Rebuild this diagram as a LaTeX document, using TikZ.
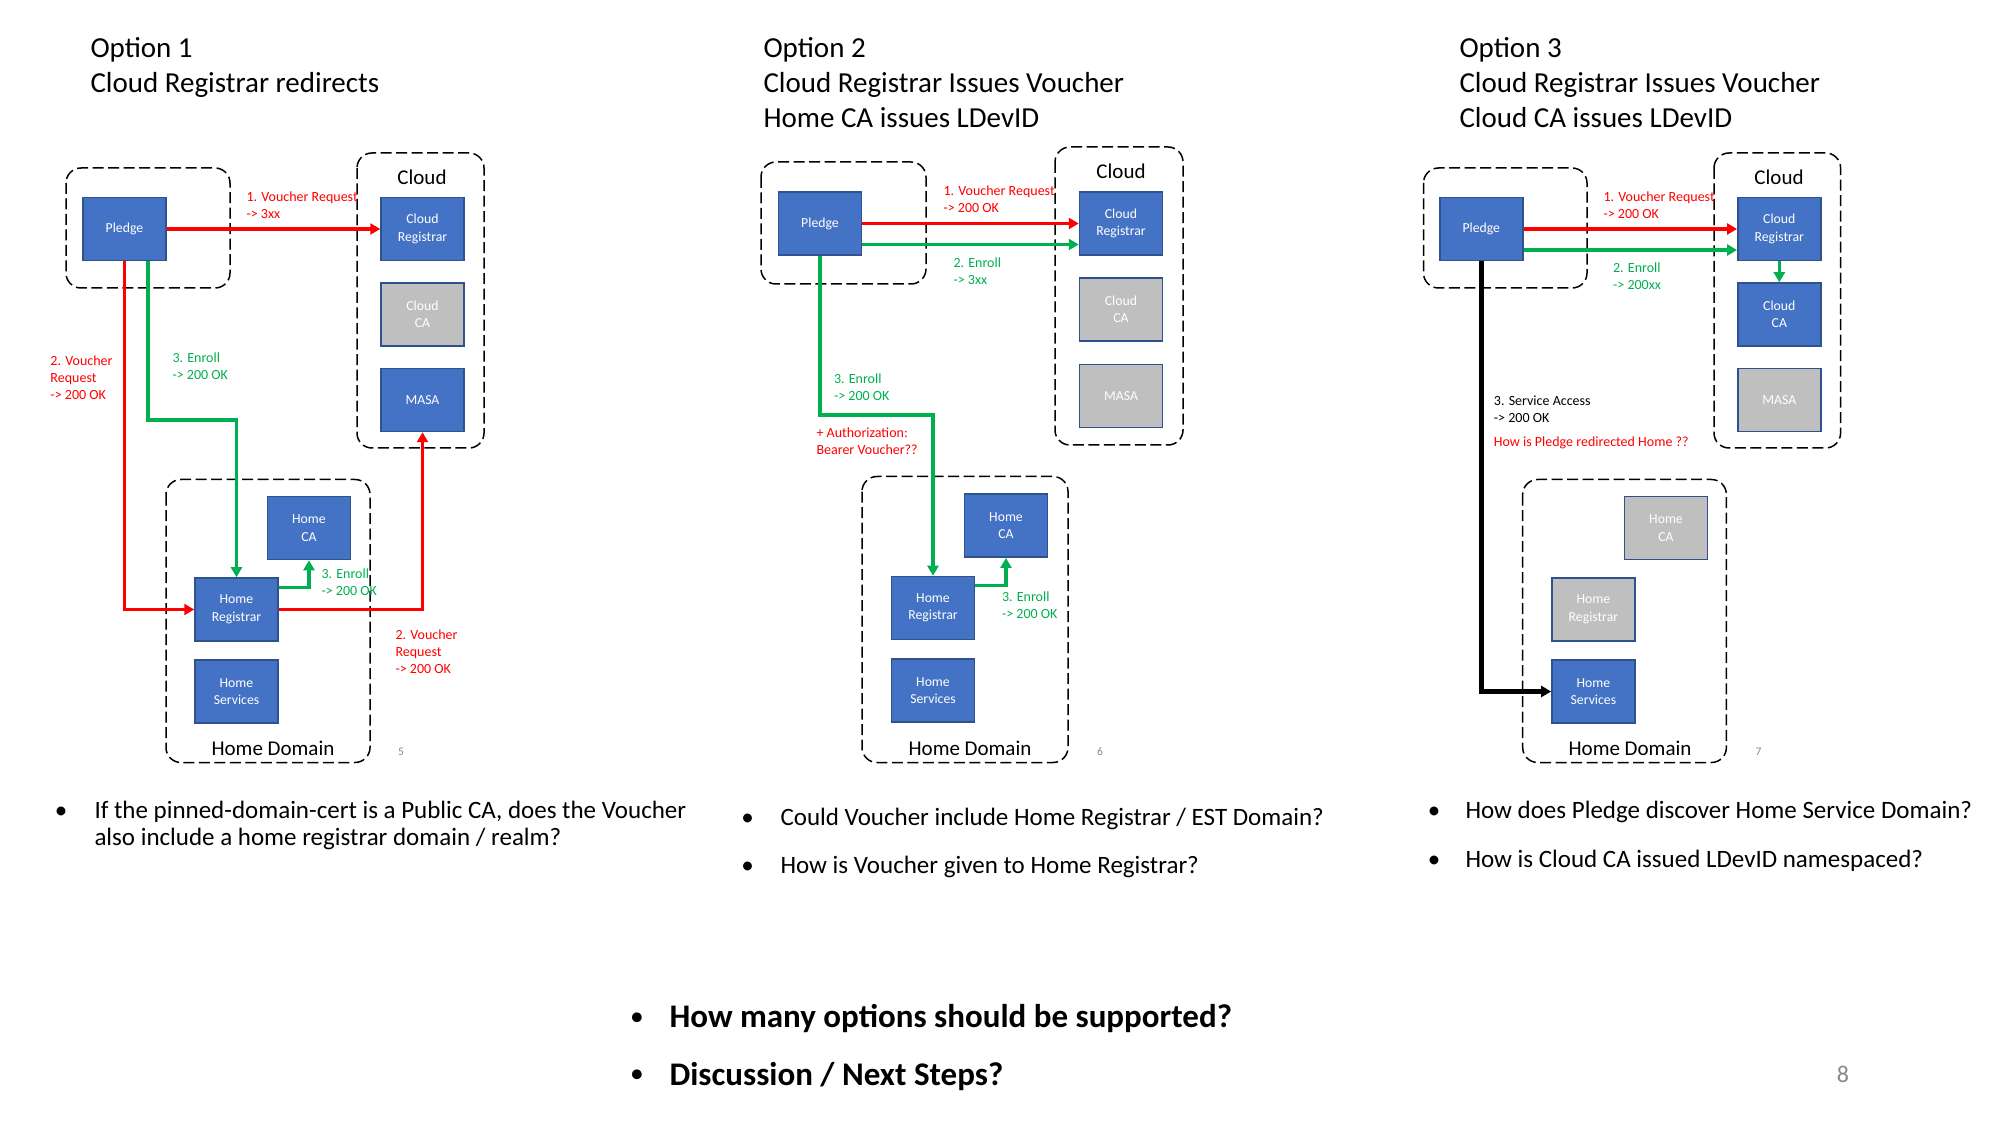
\documentclass[tikz,border=0pt]{standalone}
\usepackage{fontspec}
\setmainfont{Carlito}
\usetikzlibrary{arrows.meta,calc}
\definecolor{boxblue}{HTML}{4472C4}
\definecolor{boxedge}{HTML}{2F528F}
\definecolor{boxgrey}{HTML}{BFBFBF}
\definecolor{vred}{HTML}{FF0000}
\definecolor{vgreen}{HTML}{00B050}
\definecolor{pggrey}{HTML}{898989}
\tikzset{
  blk/.style={draw=boxedge,fill=boxblue,line width=0.6pt,text=white,minimum width=33.2pt,minimum height=25.2pt,inner sep=0pt,align=center,font=\fontsize{5.5}{7}\selectfont},
  gblk/.style={blk,fill=boxgrey},
  dom/.style={draw,line width=0.6pt,dash pattern=on 4.4pt off 1.8pt,rounded corners=6pt},
  lbl/.style={anchor=north west,inner sep=0pt,align=left,font=\fontsize{5.6}{6.8}\selectfont},
  redlbl/.style={lbl,text=vred},
  grnlbl/.style={lbl,text=vgreen},
  redarr/.style={draw=vred,line width=1.4pt,-{Triangle[length=4pt,width=4.4pt]}},
  grnarr/.style={redarr,draw=vgreen},
  blkarr/.style={redarr,draw=black,line width=1.8pt},
  ttl/.style={anchor=north west,inner sep=0pt,align=left,font=\fontsize{11.6}{14}\selectfont},
  domlbl/.style={inner sep=0pt,font=\fontsize{8.4}{10}\selectfont},
  pgno/.style={inner sep=0pt,text=pggrey,font=\fontsize{4.6}{5}\selectfont},
  bultxt/.style={anchor=north west,inner sep=0pt,align=left,font=\fontsize{10}{10.8}\selectfont},
  bulsym/.style={inner sep=0pt,font=\fontsize{10}{10.8}\selectfont},
  boldtxt/.style={anchor=north west,inner sep=0pt,font=\fontsize{13.2}{15}\selectfont\bfseries},
  boldsym/.style={inner sep=0pt,font=\fontsize{11}{13}\selectfont}
}
\begin{document}
\begin{tikzpicture}[x=0.4pt,y=-0.4pt]
\fill[white] (0,0) rectangle (2001,1125);
\useasboundingbox (0,0) rectangle (2001,1125);
\node[ttl] (t1) at (90,37) {Option 1\\Cloud Registrar redirects};
\draw[dom] (66,168) rectangle (230,288);
\draw[dom] (357,153) rectangle (484,448);
\draw[dom] (166,479.5) rectangle (370,762.5);
\node[domlbl] (c1) at (422,177) {Cloud};
\node[domlbl] (d1) at (273,748) {Home Domain};
\node[pgno] (n1) at (401,751.5) {5};
\node[blk] (p1pl) at (124.5,229) {Pledge};
\node[blk] (p1cr) at (422.5,229) {Cloud\\Registrar};
\node[gblk] (p1cca) at (422.5,314.5) {Cloud\\CA};
\node[blk] (p1masa) at (422.5,400) {MASA};
\node[blk] (p1hca) at (309,528) {Home\\CA};
\node[blk] (p1hr) at (236.5,609.5) {Home\\Registrar};
\node[blk] (p1hs) at (236.5,691.5) {Home\\Services};
\draw[redarr] (p1pl.east) -- (p1cr.west);
\draw[redarr] (p1pl.south) |- (p1hr.west);
\draw[grnarr] ($(p1pl.south)+(23.5,0)$) -- ++(0,158.7) -| (p1hr.north);
\draw[grnarr] ($(p1hr.east)+(0,-22)$) -| (p1hca.south);
\draw[redarr] (p1hr.east) -| (p1masa.south);
\node[redlbl] (l11) at (246,191) {1. Voucher Request\\-> 3xx};
\node[redlbl] (l12) at (50,355) {2. Voucher\\Request\\-> 200 OK};
\node[grnlbl] (l13) at (172,352) {3. Enroll\\-> 200 OK};
\node[grnlbl] (l14) at (321,568) {3. Enroll\\-> 200 OK};
\node[redlbl] (l15) at (395,629.5) {2. Voucher\\Request\\-> 200 OK};
\node[ttl] (t2) at (763,37) {Option 2\\Cloud Registrar Issues Voucher\\Home CA issues LDevID};
\draw[dom] (761,162) rectangle (926,284);
\draw[dom] (1055,147) rectangle (1183,445);
\draw[dom] (862,476.5) rectangle (1068,762.5);
\node[domlbl] (c2) at (1121,171.5) {Cloud};
\node[domlbl] (d2) at (970,748) {Home Domain};
\node[pgno] (n2) at (1100,751.5) {6};
\node[blk] (p2pl) at (820,223.5) {Pledge};
\node[blk] (p2cr) at (1121,223.5) {Cloud\\Registrar};
\node[gblk] (p2cca) at (1121,309.5) {Cloud\\CA};
\node[gblk] (p2masa) at (1121,396) {MASA};
\node[blk] (p2hca) at (1006,525.7) {Home\\CA};
\node[blk] (p2hr) at (933,608) {Home\\Registrar};
\node[blk] (p2hs) at (933,690.5) {Home\\Services};
\draw[redarr] (p2pl.east) -- (p2cr.west);
\draw[grnarr] ($(p2pl.east)+(0,21)$) -- ($(p2cr.west)+(0,21)$);
\draw[grnarr] (p2pl.south) -- ++(0,159.2) -| (p2hr.north);
\draw[grnarr] ($(p2hr.east)+(0,-22.7)$) -| (p2hca.south);
\node[redlbl] (l21) at (943,185.3) {1. Voucher Request\\-> 200 OK};
\node[grnlbl] (l22) at (953,257) {2. Enroll\\-> 3xx};
\node[grnlbl] (l23) at (833.5,373.7) {3. Enroll\\-> 200 OK};
\node[redlbl] (l24) at (816,427) {+ Authorization:\\Bearer Voucher??};
\node[grnlbl] (l25) at (1001.5,591) {3. Enroll\\-> 200 OK};
\node[ttl] (t3) at (1459,37) {Option 3\\Cloud Registrar Issues Voucher\\Cloud CA issues LDevID};
\draw[dom] (1423.5,168) rectangle (1587,288);
\draw[dom] (1714,153) rectangle (1840.6,448);
\draw[dom] (1522.7,479.5) rectangle (1726.4,762.5);
\node[domlbl] (c3) at (1779,177) {Cloud};
\node[domlbl] (d3) at (1630,748) {Home Domain};
\node[pgno] (n3) at (1758.4,751.5) {7};
\node[blk] (p3pl) at (1481.3,229) {Pledge};
\node[blk] (p3cr) at (1779.3,229) {Cloud\\Registrar};
\node[blk] (p3cca) at (1779.3,314.5) {Cloud\\CA};
\node[gblk] (p3masa) at (1779.3,400) {MASA};
\node[gblk] (p3hca) at (1666,528) {Home\\CA};
\node[gblk] (p3hr) at (1593.4,609.5) {Home\\Registrar};
\node[blk] (p3hs) at (1593.4,691.5) {Home\\Services};
\draw[redarr] (p3pl.east) -- (p3cr.west);
\draw[grnarr] ($(p3pl.east)+(0,21)$) -- ($(p3cr.west)+(0,21)$);
\draw[grnarr] (p3cr.south) -- (p3cca.north);
\draw[blkarr] (p3pl.south) |- (p3hs.west);
\node[redlbl] (l31) at (1603,191) {1. Voucher Request\\-> 200 OK};
\node[grnlbl] (l32) at (1612.6,262) {2. Enroll\\-> 200xx};
\node[lbl] (l33) at (1493.4,395.7) {3. Service Access\\-> 200 OK};
\node[redlbl] (l34) at (1493.4,436.6) {How is Pledge redirected Home ??};
\node[bulsym] (s1) at (61,813) {•};
\node[bultxt] (b1) at (94,800.7) {If the pinned-domain-cert is a Public CA, does the Voucher\\also include a home registrar domain / realm?};
\node[bulsym] (s2) at (747.5,819.5) {•};
\node[bultxt] (b2) at (780,807.3) {Could Voucher include Home Registrar / EST Domain?};
\node[bulsym] (s3) at (747.5,867.4) {•};
\node[bultxt] (b3) at (780,855.2) {How is Voucher given to Home Registrar?};
\node[bulsym] (s4) at (1434,813) {•};
\node[bultxt] (b4) at (1465,800.7) {How does Pledge discover Home Service Domain?};
\node[bulsym] (s5) at (1434,861.7) {•};
\node[bultxt] (b5) at (1465,849.5) {How is Cloud CA issued LDevID namespaced?};
\node[boldsym] (s6) at (637,1019) {•};
\node[boldtxt] (b6) at (669,1003.8) {How many options should be supported?};
\node[boldsym] (s7) at (637,1076.7) {•};
\node[boldtxt] (b7) at (669,1061.5) {Discussion / Next Steps?};
\node[inner sep=0pt,text=pggrey,font=\fontsize{9.6}{11}\selectfont] (pg) at (1843,1074) {8};
\end{tikzpicture}
\end{document}
